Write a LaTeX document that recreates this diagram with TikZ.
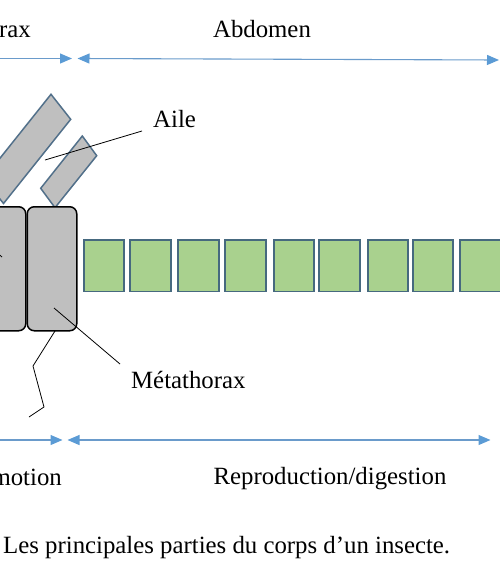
\documentclass[tikz,border=0pt]{standalone}
\usepackage{fontspec}
\setmainfont{Liberation Serif}
\usetikzlibrary{arrows.meta}
\definecolor{arrblue}{HTML}{5B9BD5}
\definecolor{linblue}{HTML}{6A9BCB}
\definecolor{gfill}{HTML}{A9D18E}
\definecolor{gline}{HTML}{46697F}
\definecolor{bodyfill}{HTML}{BFBFBF}
\definecolor{wline}{HTML}{52708A}
\tikzset{
  lbl/.style={font=\fontsize{24.8}{29}\selectfont, inner sep=0pt, anchor=base},
  gbox/.style={draw=gline, fill=gfill, line width=1.8pt, anchor=north west, minimum height=51.5pt, inner sep=0pt},
  body/.style={draw=black, fill=bodyfill, line width=1.5pt, rounded corners=7pt, anchor=north west, minimum height=124pt, minimum width=49.5pt, inner sep=0pt},
  wing/.style={draw=wline, fill=bodyfill, line width=1.5pt, line join=miter},
  span/.style={draw=linblue, line width=1.1pt, -{Triangle[length=12pt,width=10pt,fill=arrblue,color=arrblue]}},
  spanboth/.style={draw=linblue, line width=1.1pt, {Triangle[length=12pt,width=10pt,fill=arrblue,color=arrblue]}-{Triangle[length=12pt,width=10pt,fill=arrblue,color=arrblue]}},
  leader/.style={draw=black, line width=0.8pt}
}
\begin{document}
\begin{tikzpicture}[x=1pt,y=-1pt]
\useasboundingbox (0,0) rectangle (500,576);
\clip (0,0) rectangle (500,576);
% wings
\draw[wing] (51,94.3) -- (70.7,119.3) -- (3.5,203.5) -- (-16.2,178.5) -- cycle;
\draw[wing] (82.3,136) -- (96.7,155.7) -- (55,207.7) -- (40.7,188.3) -- cycle;
% body segments
\node[body] (meso) at (-24.5,206) {};
\node[body] (meta) at (26.5,206) {};
% abdomen segments
\foreach \i/\x/\w in {1/82.7/40.6, 2/129.3/40.7, 3/177.3/41, 4/224.3/41, 5/272.7/40.6, 6/318.3/41, 7/366.7/40.6, 8/411.7/40.6, 9/459.3/41}{
  \node[gbox, minimum width=\w pt] (g\i) at (\x,239) {};
}
% labels
\node[lbl, anchor=base east] (thorax) at (31,37) {rax};
\node[lbl] (abdomen) at (262,37) {Abdomen};
\node[lbl, anchor=base west] (aile) at (153,127) {Aile};
\node[lbl, anchor=base west] (metalbl) at (131,388) {Métathorax};
\node[lbl, anchor=base east] (loco) at (62,485) {motion};
\node[lbl] (repro) at (330,484) {Reproduction/digestion};
\node[lbl, anchor=base west] (caption) at (3,553) {Les principales parties du corps d’un insecte.};
% span arrows
\coordinate (ta) at (-5,58.5);
\coordinate (tb) at (72,58.5);
\coordinate (tc) at (77.5,58.5);
\coordinate (td) at (499,60);
\draw[span] (ta) -- (tb);
\draw[spanboth] (tc) -- (td);
\coordinate (ba) at (-5,440);
\coordinate (bb) at (62.5,440);
\coordinate (bc) at (67.5,440);
\coordinate (bd) at (490.5,440);
\draw[span] (ba) -- (bb);
\draw[spanboth] (bc) -- (bd);
% leaders
\coordinate (ailept) at (45,160);
\coordinate (aileend) at (142,131);
\draw[leader] (ailept) -- (aileend);
\coordinate (metapt) at (54,308);
\coordinate (metaend) at (120,364);
\draw[leader] (metapt) -- (metaend);
\coordinate (mesopt) at (2,257);
\coordinate (mesoend) at (-12,245);
\draw[leader] (mesopt) -- (mesoend);
% leg
\coordinate (leg0) at (55,331);
\coordinate (leg1) at (33,366);
\coordinate (leg2) at (44,407);
\coordinate (leg3) at (29,417);
\draw[leader] (leg0) -- (leg1) -- (leg2) -- (leg3);
\end{tikzpicture}
\end{document}
